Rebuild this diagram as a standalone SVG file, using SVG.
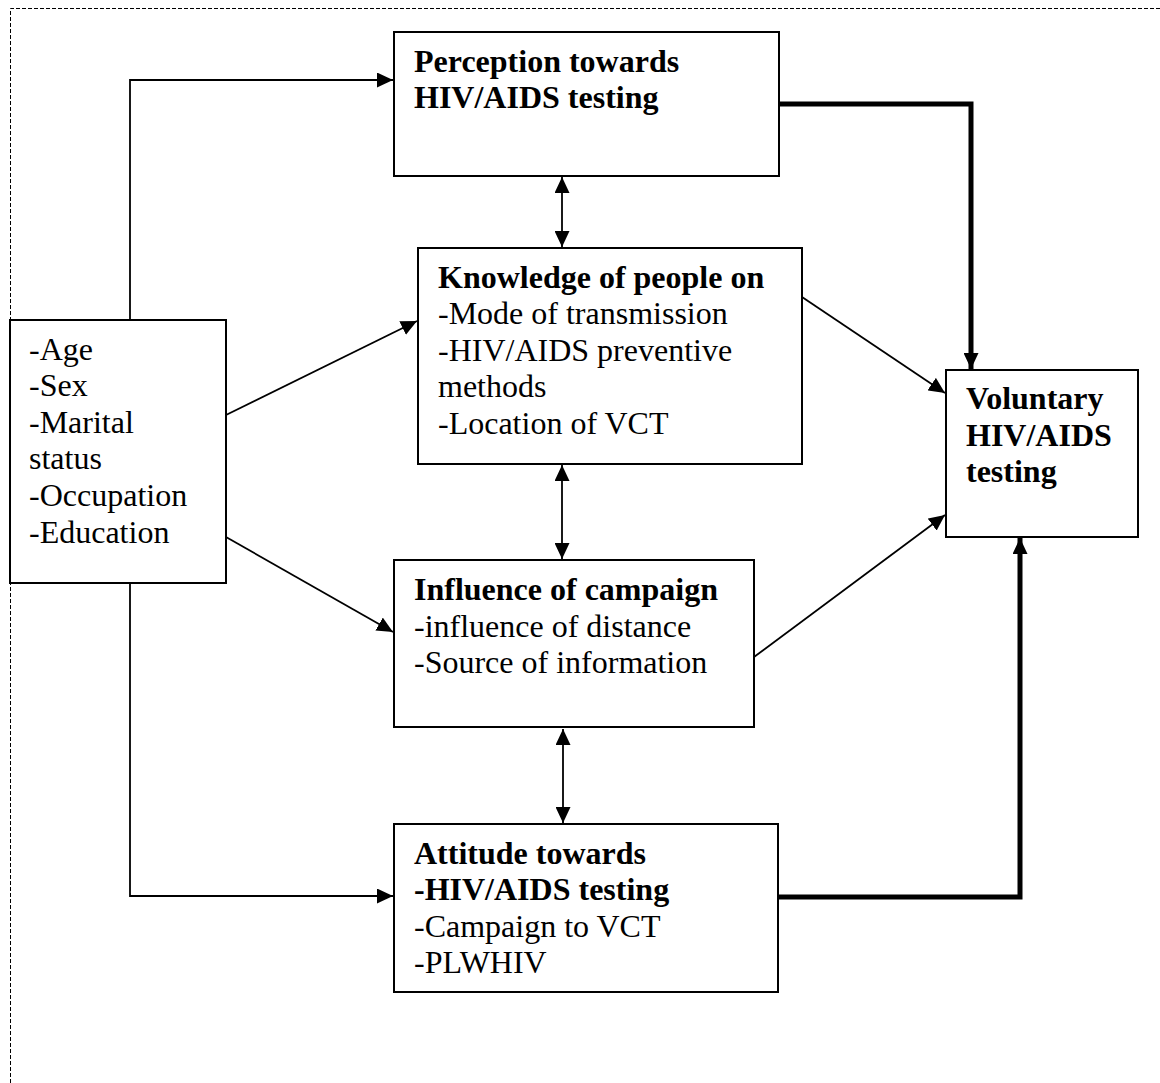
<svg xmlns="http://www.w3.org/2000/svg" width="1160" height="1083" viewBox="0 0 1160 1083">
<style>
.box{fill:#fff;stroke:#000;stroke-width:2}
.t{font-family:"Liberation Serif","Times New Roman",serif;font-size:32px;fill:#000}
.b{font-weight:bold}
.c{fill:none;stroke:#000;stroke-width:1.8}
.k{fill:none;stroke:#000;stroke-width:5}
</style>
<defs>
<marker id="ah" markerUnits="userSpaceOnUse" markerWidth="16" markerHeight="15" refX="16" refY="7.5" orient="auto-start-reverse" viewBox="0 0 16 15">
<path d="M0,0 L16,7.5 L0,15 z" fill="#000"/>
</marker>
<marker id="ahk" markerUnits="userSpaceOnUse" markerWidth="16" markerHeight="15" refX="16" refY="7.5" orient="auto" viewBox="0 0 16 15">
<path d="M0,0 L16,7.5 L0,15 z" fill="#000"/>
</marker>
</defs>
<rect width="1160" height="1083" fill="#fff"/>
<path d="M10.5,1083 V8.5 H1160" fill="none" stroke="#000" stroke-width="1" stroke-dasharray="4,2"/>
<g id="connectors">
<path class="c" d="M130,320 V80 H393" marker-end="url(#ah)"/>
<path class="c" d="M130,583 V896 H393" marker-end="url(#ah)"/>
<path class="c" d="M226,415 L417,321" marker-end="url(#ah)"/>
<path class="c" d="M226,537 L393,632" marker-end="url(#ah)"/>
<path class="c" d="M562,177 V247" marker-start="url(#ah)" marker-end="url(#ah)"/>
<path class="c" d="M562,465 V559" marker-start="url(#ah)" marker-end="url(#ah)"/>
<path class="c" d="M563,729 V823" marker-start="url(#ah)" marker-end="url(#ah)"/>
<path class="c" d="M802,297 L945,393" marker-end="url(#ah)"/>
<path class="c" d="M754,657 L945,515" marker-end="url(#ah)"/>
<path class="k" d="M777,104 H971 V369" marker-end="url(#ahk)"/>
<path class="k" d="M777,897 H1020 V538" marker-end="url(#ahk)"/>
</g>
<g id="perception">
<rect class="box" x="394" y="32" width="385" height="144"/>
<text class="t b" x="414" y="72">Perception towards</text>
<text class="t b" x="414" y="108">HIV/AIDS testing</text>
</g>
<g id="demographics">
<rect class="box" x="10" y="320" width="216" height="263"/>
<text class="t" x="29" y="360">-Age</text>
<text class="t" x="29" y="396">-Sex</text>
<text class="t" x="29" y="433">-Marital</text>
<text class="t" x="29" y="469">status</text>
<text class="t" x="29" y="506">-Occupation</text>
<text class="t" x="29" y="543">-Education</text>
</g>
<g id="knowledge">
<rect class="box" x="418" y="248" width="384" height="216"/>
<text class="t b" x="438" y="288">Knowledge of people on</text>
<text class="t" x="438" y="324">-Mode of transmission</text>
<text class="t" x="438" y="361">-HIV/AIDS preventive</text>
<text class="t" x="438" y="397">methods</text>
<text class="t" x="438" y="434">-Location of VCT</text>
</g>
<g id="influence">
<rect class="box" x="394" y="560" width="360" height="167"/>
<text class="t b" x="414" y="600">Influence of campaign</text>
<text class="t" x="414" y="637">-influence of distance</text>
<text class="t" x="414" y="673">-Source of information</text>
</g>
<g id="attitude">
<rect class="box" x="394" y="824" width="384" height="168"/>
<text class="t b" x="414" y="864">Attitude towards</text>
<text class="t b" x="414" y="900">-HIV/AIDS testing</text>
<text class="t" x="414" y="937">-Campaign to VCT</text>
<text class="t" x="414" y="973">-PLWHIV</text>
</g>
<g id="voluntary">
<rect class="box" x="946" y="370" width="192" height="167"/>
<text class="t b" x="966" y="409">Voluntary</text>
<text class="t b" x="966" y="446">HIV/AIDS</text>
<text class="t b" x="966" y="482">testing</text>
</g>
</svg>
